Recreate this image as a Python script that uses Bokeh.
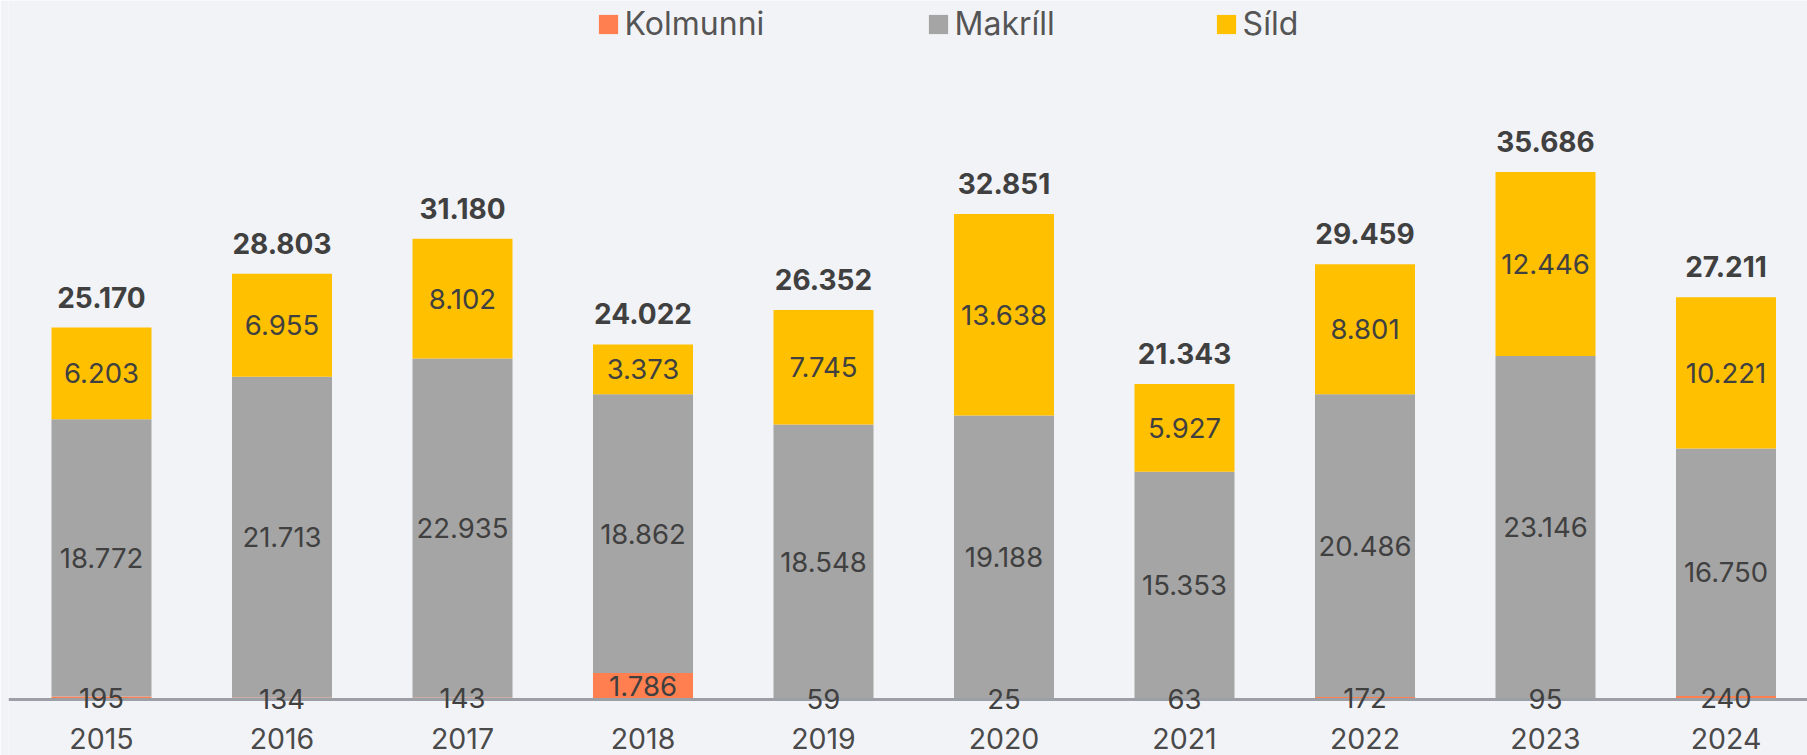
import numpy as np
from bokeh.plotting import figure
from bokeh.models import ColumnDataSource, Range1d, FixedTicker, Legend, LegendItem, LabelSet
from bokeh.core.properties import value
from bokeh.embed import file_html
from bokeh.resources import INLINE

years = ["2015", "2016", "2017", "2018", "2019", "2020", "2021", "2022", "2023", "2024"]
kolmunni = [195, 134, 143, 1786, 59, 25, 63, 172, 95, 240]
makrill = [18772, 21713, 22935, 18862, 18548, 19188, 15353, 20486, 23146, 16750]
sild = [6203, 6955, 8102, 3373, 7745, 13638, 5927, 8801, 12446, 10221]
totals = [25170, 28803, 31180, 24022, 26352, 32851, 21343, 29459, 35686, 27211]
series_names = ["Kolmunni", "Makríll", "Síld"]
colors = ["#FF7F50", "#A5A5A5", "#FFC000"]

FONT = "Inter"
TXT = "#404040"

def fmt(v):
    return f"{v:,}".replace(",", ".")

idx = np.arange(len(years))
k = np.array(kolmunni, dtype=float)
m = np.array(makrill, dtype=float)
s = np.array(sild, dtype=float)

src = ColumnDataSource(dict(x=idx, Kolmunni=k, Makríll=m, Síld=s))

p = figure(width=1807, height=755, output_backend="svg", toolbar_location=None,
           x_range=Range1d(-0.5152, 9.4515), y_range=Range1d(-3789, 47297),
           y_axis_location=None, min_border_left=8, min_border_right=0,
           min_border_top=0, min_border_bottom=0)
p.background_fill_color = "#F2F3F7"
p.border_fill_color = "#F2F3F7"
p.outline_line_color = None
p.grid.visible = False

renderers = p.vbar_stack(series_names, x="x", width=0.554, color=colors, source=src, line_width=0)

# segment labels
lab_src = ColumnDataSource(dict(
    x=np.concatenate([idx, idx, idx]),
    y=np.concatenate([k / 2, k + m / 2, k + m + s / 2]),
    t=[fmt(v) for v in kolmunni] + [fmt(v) for v in makrill] + [fmt(v) for v in sild],
))
p.add_layout(LabelSet(x="x", y="y", text="t", source=lab_src, text_align="center",
                      text_baseline="middle", text_font=value(FONT), text_font_size="27.5px",
                      text_color=TXT, level="overlay"))

# totals
tot_src = ColumnDataSource(dict(x=idx, y=k + m + s, t=[fmt(v) for v in totals]))
p.add_layout(LabelSet(x="x", y="y", text="t", source=tot_src, text_align="center",
                      text_baseline="alphabetic", y_offset=20, text_font=value(FONT),
                      text_font_size="28px", text_font_style="bold", text_color=TXT))

ax = p.xaxis[0]
ax.fixed_location = 0
ax.ticker = FixedTicker(ticks=list(idx))
ax.major_label_overrides = {int(i): y for i, y in zip(idx, years)}
ax.axis_line_color = "#9CA0A6"
ax.axis_line_width = 3
ax.major_tick_line_color = None
ax.minor_tick_line_color = None
ax.major_label_standoff = 22
ax.major_label_text_font = FONT
ax.major_label_text_font_size = "28.5px"
ax.major_label_text_color = "#4A4A4A"

leg_x = [587.6, 917.6, 1205.6]
for name, r, lx in zip(series_names, renderers, leg_x):
    lg = Legend(items=[LegendItem(label=name, renderers=[r])],
                orientation="horizontal", location=(lx, 712),
                glyph_width=24, glyph_height=24, label_standoff=5,
                label_text_font=FONT, label_text_font_size="32px", label_text_color="#555555",
                background_fill_alpha=0, border_line_color=None, padding=0, margin=0)
    p.add_layout(lg, "center")

open("out.html", "w").write(file_html(p, INLINE))
